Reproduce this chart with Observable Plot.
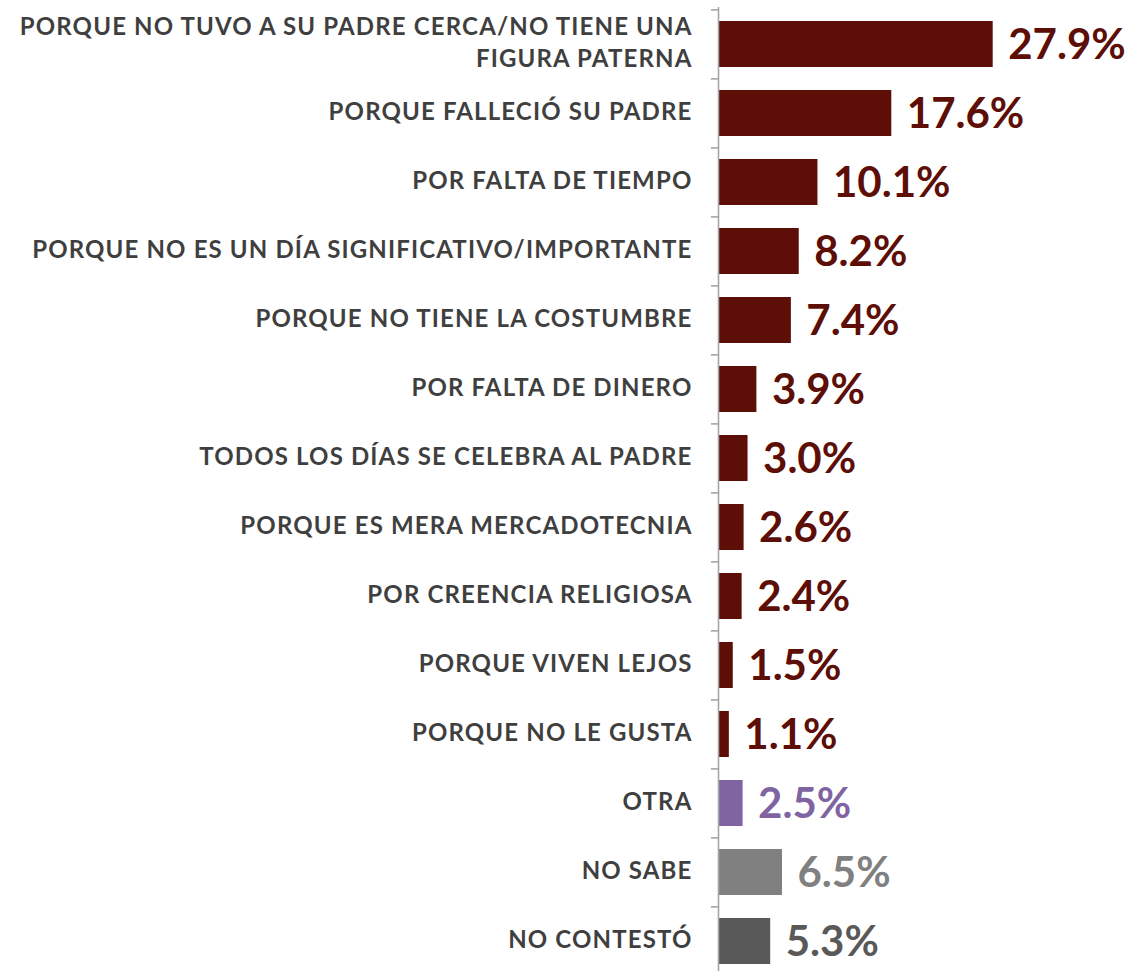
<!DOCTYPE html>
<html>
<head>
<meta charset="utf-8">
<script src="https://cdn.jsdelivr.net/npm/d3@7"></script>
<script src="https://cdn.jsdelivr.net/npm/@observablehq/plot@0.6"></script>
<style>
  html, body { margin: 0; padding: 0; background: #ffffff; }
  .cat-labels text { letter-spacing: 1.15px; }
</style>
</head>
<body>
<div id="chart"></div>
<script>
const categories = [
  "PORQUE NO TUVO A SU PADRE CERCA/NO TIENE UNA\nFIGURA PATERNA",
  "PORQUE FALLECIÓ SU PADRE",
  "POR FALTA DE TIEMPO",
  "PORQUE NO ES UN DÍA SIGNIFICATIVO/IMPORTANTE",
  "PORQUE NO TIENE LA COSTUMBRE",
  "POR FALTA DE DINERO",
  "TODOS LOS DÍAS SE CELEBRA AL PADRE",
  "PORQUE ES MERA MERCADOTECNIA",
  "POR CREENCIA RELIGIOSA",
  "PORQUE VIVEN LEJOS",
  "PORQUE NO LE GUSTA",
  "OTRA",
  "NO SABE",
  "NO CONTESTÓ"
];
const values = [27.9, 17.6, 10.1, 8.2, 7.4, 3.9, 3.0, 2.6, 2.4, 1.5, 1.1, 2.5, 6.5, 5.3];
const groups = ["razón","razón","razón","razón","razón","razón","razón","razón","razón","razón","razón","otra","no sabe","no contestó"];
const groupNames = ["razón", "otra", "no sabe", "no contestó"];
const groupColors = ["#5c0e07", "#8064a2", "#808080", "#595959"];

const data = categories.map((c, i) => ({label: c, value: values[i], group: groups[i]}));

const W = 1132, H = 971;
const yTop = 7.4, yBottom = 976.6;
const step = (yBottom - yTop) / categories.length;
const pxPerUnit = 9.846;
const x0 = 718;
const xMax = 40;

const chart = Plot.plot({
  width: W,
  height: H,
  marginTop: 7,
  marginBottom: 0,
  marginLeft: x0,
  marginRight: W - (x0 + pxPerUnit * xMax),
  style: {background: "transparent", fontFamily: "Lato, sans-serif"},
  x: {domain: [0, xMax], range: [x0, x0 + pxPerUnit * xMax], axis: null},
  y: {domain: categories, range: [yTop, yBottom], paddingInner: 0.335, paddingOuter: 0.1675, axis: null},
  color: {domain: groupNames, range: groupColors},
  marks: [
    Plot.barX(data, {y: "label", x: "value", fill: "group"}),
    Plot.ruleX([0], {stroke: "#a6a6a6", strokeWidth: 1.6}),
    Plot.ruleY(categories, {y: d => d, x1: -0.72, x2: 0, dy: -step / 2, stroke: "#a6a6a6", strokeWidth: 1.6}),
    Plot.text(data, {
      y: "label", x: 0, text: "label", dx: -26, dy: -3.5, textAnchor: "end",
      fill: "#3f3f3f", fontSize: 24, fontWeight: 700, lineHeight: 1.33,
      className: "cat-labels"
    }),
    Plot.text(data, {
      y: "label", x: "value", text: d => d.value.toFixed(1) + "%", dx: 15, dy: 1,
      textAnchor: "start", fill: "group", fontSize: 42, fontWeight: 700
    })
  ]
});
document.getElementById("chart").appendChild(chart);
</script>
</body>
</html>
